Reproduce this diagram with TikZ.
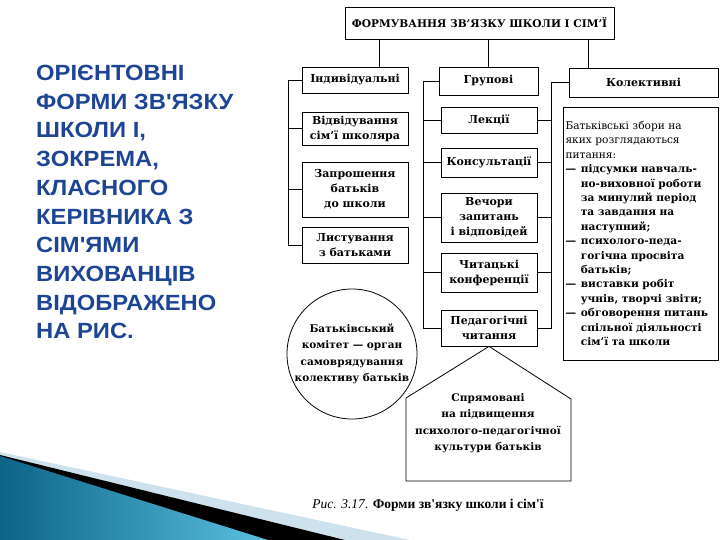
\documentclass[tikz,border=0pt]{standalone}
\usepackage{fontspec}
\setmainfont{DejaVu Serif}
\newfontfamily\headingfont[FakeStretch=1.08]{Liberation Sans}
\newfontfamily\captionfont{Liberation Serif}
\definecolor{headblue}{RGB}{30,68,148}
\definecolor{wispteal}{RGB}{12,100,135}
\definecolor{wispcyan}{RGB}{90,192,224}
\definecolor{wisplight}{RGB}{205,226,236}
\newcommand{\itemdash}{\makebox[1.45em][l]{—}}
\newcommand{\itemcont}{\hspace*{1.45em}}
\tikzset{
  formbox/.style={draw, line width=0.8pt, align=center, inner sep=2pt,
    font=\bfseries\fontsize{11}{15}\selectfont},
  link/.style={line width=0.8pt},
}
\begin{document}
\begin{tikzpicture}[x=1pt,y=-1pt]
\useasboundingbox (0,0) rectangle (720,540);
%   \draw[help lines, step=20] (0,0) grid (720,540);
% slide decoration
\fill[wisplight] (0,452) -- (410,540) -- (0,540) -- cycle;
\fill[black] (0,455) -- (345,540) -- (0,540) -- cycle;
\shade[left color=wispteal, right color=wispcyan] (0,456) -- (268,540) -- (0,540) -- cycle;
% slide heading
\node[anchor=north west, inner sep=0pt, align=left, text=headblue,
  font=\headingfont\bfseries\fontsize{22}{28.7}\selectfont] (heading) at (36,65)
  {ОРІЄНТОВНІ\\ФОРМИ ЗВ'ЯЗКУ\\ШКОЛИ І,\\ЗОКРЕМА,\\КЛАСНОГО\\КЕРІВНИКА З\\СІМ'ЯМИ\\ВИХОВАНЦІВ\\ВІДОБРАЖЕНО\\НА РИС.};
% scheme
\node[formbox, minimum width=269, minimum height=32, font=\bfseries\fontsize{10.6}{12}\selectfont] (title) at (479.5,23) {ФОРМУВАННЯ ЗВ'ЯЗКУ ШКОЛИ І СІМ'Ї};
\node[formbox, minimum width=106, minimum height=26] (indiv) at (355,80) {Індивідуальні};
\node[formbox, minimum width=99, minimum height=28] (group) at (488.5,81) {Групові};
\node[formbox, minimum width=149, minimum height=29] (coll) at (643.5,82.5) {Колективні};
\node[formbox, minimum width=106, minimum height=33] (visit) at (355,128.5) {Відвідування\\сім'ї школяра};
\node[formbox, minimum width=106, minimum height=55] (invite) at (355,189.5) {Запрошення\\батьків\\до школи};
\node[formbox, minimum width=106, minimum height=36] (letters) at (355,245) {Листування\\з батьками};
\node[formbox, minimum width=96, minimum height=26] (lect) at (489,120) {Лекції};
\node[formbox, minimum width=96, minimum height=29] (consult) at (489,162.5) {Консультації};
\node[formbox, minimum width=96, minimum height=49] (evenings) at (489,217.5) {Вечори\\запитань\\і відповідей};
\node[formbox, minimum width=96, minimum height=39] (readers) at (489,272.5) {Читацькі\\конференції};
\node[formbox, minimum width=96, minimum height=36] (pedread) at (489,328) {Педагогічні\\читання};
\node[draw, line width=0.8pt, minimum width=155, minimum height=253, text width=150, align=left, inner sep=2.5pt,
  font=\fontsize{10.6}{14.4}\selectfont] (colltext) at (640.5,233.5)
  {Батьківські збори на\\яких розглядаються\\питання:\\
  \bfseries\itemdash підсумки навчаль-\\\itemcont но-виховної роботи\\\itemcont за минулий період\\\itemcont та завдання на\\\itemcont наступний;\\
  \itemdash психолого-педа-\\\itemcont гогічна просвіта\\\itemcont батьків;\\
  \itemdash виставки робіт\\\itemcont учнів, творчі звіти;\\
  \itemdash обговорення питань\\\itemcont спільної діяльності\\\itemcont сім'ї та школи};
\node[formbox, circle, minimum size=130, inner sep=0pt, font=\bfseries\fontsize{10.5}{16.5}\selectfont] (committee) at (352,354)
  {Батьківський\\комітет — орган\\самоврядування\\колективу батьків};
\node[align=center, font=\bfseries\fontsize{10.5}{16.5}\selectfont] (aimed) at (488,423)
  {Спрямовані\\на підвищення\\психолого-педагогічної\\культури батьків};
\node[font=\captionfont\fontsize{13.5}{15}\selectfont] (caption) at (428,505) {\textit{Рис. 3.17}. \textbf{Форми зв'язку школи і сім'ї}};
% drops from the title
\coordinate (dropI) at (379,0);
\coordinate (dropG) at (488,0);
\coordinate (dropC) at (588,0);
\draw[link] (dropI |- title.south) -- (dropI |- indiv.north);
\draw[link] (dropG |- title.south) -- (dropG |- group.north);
\draw[link] (dropC |- title.south) -- (dropC |- coll.north);
% buses
\coordinate (busI) at (288,0);
\coordinate (busGL) at (423,0);
\coordinate (busGR) at (551,0);
\draw[link] (indiv.west) -- (indiv.west -| busI) -- (busI |- letters.west) -- (letters.west);
\foreach \b in {visit, invite}
  \draw[link] (\b.west) -- (\b.west -| busI);
\draw[link] (group.west) -- (group.west -| busGL) -- (busGL |- pedread.west) -- (pedread.west);
\draw[link] (coll.west) -- (coll.west -| busGR) -- (busGR |- pedread.east) -- (pedread.east);
\foreach \b in {lect, consult, evenings, readers} {
  \draw[link] (\b.west) -- (\b.west -| busGL);
  \draw[link] (\b.east) -- (\b.east -| busGR);
}
% house shape
\coordinate (roofL) at (406,398);
\coordinate (roofR) at (571,399);
\coordinate (baseL) at (406,481);
\coordinate (baseR) at (571,481);
\draw[link] (pedread.south) -- (roofL) -- (baseL) -- (baseR) -- (roofR) -- cycle;
\end{tikzpicture}
\end{document}
